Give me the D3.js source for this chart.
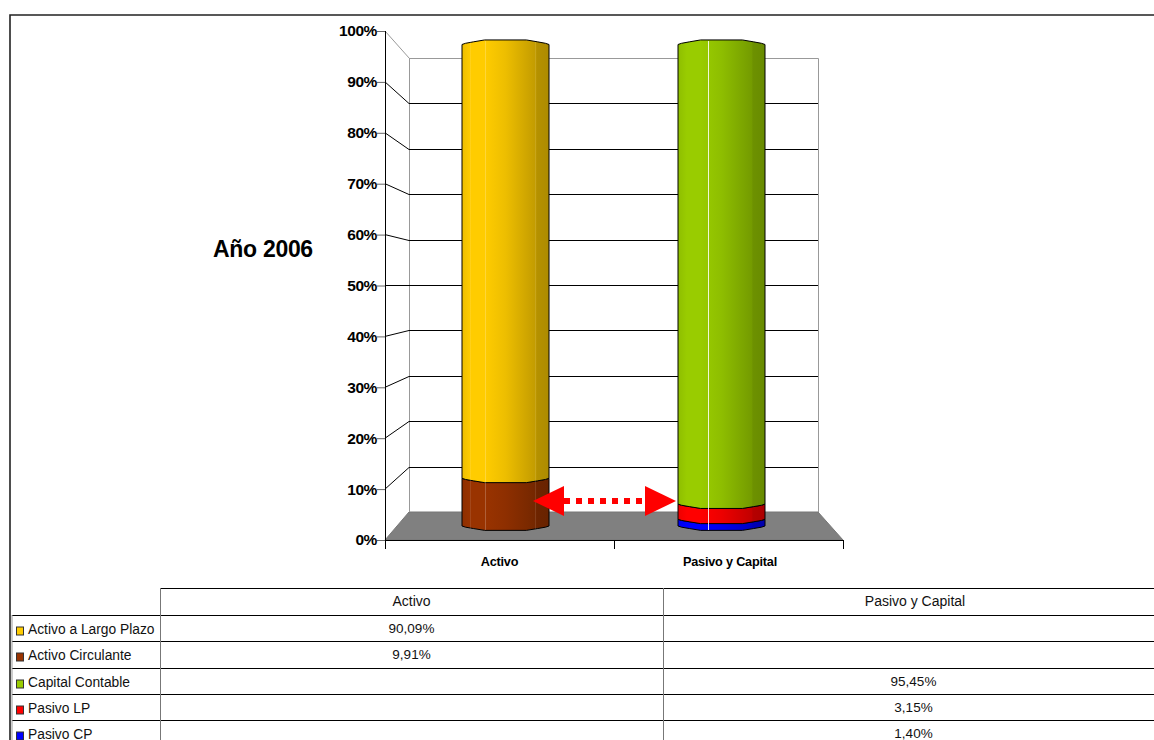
<!DOCTYPE html>
<html><head><meta charset="utf-8">
<script src="https://cdn.jsdelivr.net/npm/d3@7"></script>
<style>html,body{margin:0;padding:0;background:#fff}svg{display:block}text{font-family:"Liberation Sans",Arial,sans-serif}</style>
</head><body><div id="c"></div>
<script>
const categories=["Activo","Pasivo y Capital"];
const seriesNames=["Activo a Largo Plazo","Activo Circulante","Capital Contable","Pasivo LP","Pasivo CP"];
const seriesColors=["#FFCC00","#993300","#99CC00","#FF0000","#0000FF"];
const activoValues=[90.09,9.91,null,null,null];
const pasivoValues=[null,null,95.45,3.15,1.40];
const pctLabels=[["90,09%",""],["9,91%",""],["","95,45%"],["","3,15%"],["","1,40%"]];
const tickValues=[0,10,20,30,40,50,60,70,80,90,100];
const title="Año 2006";

const W=1154,H=740;
const svg=d3.select("#c").append("svg").attr("width",W).attr("height",H);
const defs=svg.append("defs");
const L=385,R=843,B=540,T=31,dx=24,dy=28;
const yFront=d3.scaleLinear().domain([0,100]).range([B,T]);
const yBack=d3.scaleLinear().domain([0,100]).range([512,58]);
const yBar=d3.scaleLinear().domain([0,100]).range([526,44.5]);
const xCat=d3.scaleBand().domain(categories).range([L,R]);
const barW=87;
const crisp=v=>Math.round(v)+.5;

// frame
svg.append("path").attr("d",`M10,740V15H${W}`).attr("fill","none").attr("stroke","#222").attr("stroke-width",1.6);

// floor
const g=svg.append("g");
g.append("path").attr("d",`M${L},${B}L${L+dx},512H${R-25}L${R},${B}Z`).attr("fill","#808080").attr("stroke","#777");
// back wall
g.append("path").attr("d",`M${L},${yFront(100)}L${L+dx+.5},${yBack(100)+.5}H${R-24.5}V512`).attr("fill","none").attr("stroke","#999").attr("stroke-width",1);
g.append("line").attr("x1",L+dx+.5).attr("x2",L+dx+.5).attr("y1",58).attr("y2",512).attr("stroke","#999");
// grid
tickValues.forEach(t=>{
  if(t===0||t===100)return;
  g.append("line").attr("x1",L+dx).attr("x2",R-25).attr("y1",crisp(yBack(t))).attr("y2",crisp(yBack(t))).attr("stroke","#000");
  g.append("line").attr("x1",L).attr("x2",L+dx).attr("y1",yFront(t)).attr("y2",crisp(yBack(t))).attr("stroke","#000");
});
// y axis
const axisY=d3.axisLeft(yFront).tickValues(tickValues).tickFormat(d=>d+"%").tickSize(8).tickPadding(1);
const ax=svg.append("g").attr("transform",`translate(${L},0)`).call(axisY);
ax.select(".domain").attr("stroke","#000").attr("d",`M0.5,${T}V${B}`);
ax.selectAll(".tick line").attr("stroke","#666");
ax.selectAll(".tick text").attr("x",-8).attr("font-size",15.5).attr("font-weight","bold").attr("fill","#000").attr("letter-spacing","-0.4").style("font-family",'"Liberation Sans"');
// x axis
svg.append("line").attr("x1",L).attr("x2",R).attr("y1",B+.5).attr("y2",B+.5).attr("stroke","#000");
[L,xCat("Pasivo y Capital"),R].forEach(x=>svg.append("line").attr("x1",Math.floor(x)+.5).attr("x2",Math.floor(x)+.5).attr("y1",B).attr("y2",549).attr("stroke","#000"));
svg.selectAll(".cat").data(categories).join("text").attr("class","cat")
  .attr("x",d=>xCat(d)+xCat.bandwidth()/2+(d==="Activo"?0:1.5)).attr("y",565.5).attr("text-anchor","middle")
  .attr("font-size",12.7).attr("font-weight","bold").attr("letter-spacing","-0.2").text(d=>d);

// gradients
function shade(c,k){const o=d3.rgb(c);return d3.rgb(o.r*k,o.g*k,o.b*k)+"";}
seriesColors.forEach((c,i)=>{
  const lg=defs.append("linearGradient").attr("id","g"+i);
  [[0,.93],[.1,1],[.26,1],[.5,.93],[.85,.76],[.86,.71],[1,.68]].forEach(([o,k])=>lg.append("stop").attr("offset",o).attr("stop-color",shade(c,k)));
});

// faceted cylinder edge
const edgeF=[0,.04,.13,.26,.74,.87,.96,1], edgeS=[0,.25,.55,.95,.95,.55,.25,0];
const edge=(left,y,s)=>edgeF.map((f,i)=>[left+f*barW,y+edgeS[i]*s]);
const line=d3.line();
function drawBar(cat,vals,order,off){
  const cx=xCat(cat)+xCat.bandwidth()/2+off;
  const left=cx-barW/2;
  let cum=0;
  const segs=order.map(i=>{const s={i,y0:cum,y1:cum+vals[i]};cum=s.y1;return s;});
  const bg=svg.append("g");
  segs.forEach((s,k)=>{
    const yb=yBar(s.y0),yt=yBar(s.y1),isTop=k===segs.length-1;
    const top=edge(left,yt,isTop?-4.8:4.4), bot=edge(left,yb,4.6).reverse();
    bg.append("path").attr("d",line(top.concat(bot))+"Z").attr("fill",`url(#g${s.i})`).attr("stroke","#000").attr("stroke-width",1).attr("stroke-linejoin","round");
  });
}
drawBar("Activo",activoValues,[1,0],6);
drawBar("Pasivo y Capital",pasivoValues,[4,3,2],-7);
// highlight lines
svg.append("line").attr("x1",485.5).attr("x2",485.5).attr("y1",41).attr("y2",530).attr("stroke","#fff").attr("stroke-opacity",.22);
svg.append("line").attr("x1",470.5).attr("x2",470.5).attr("y1",42).attr("y2",529).attr("stroke","#fff").attr("stroke-opacity",.1);
svg.append("line").attr("x1",535.5).attr("x2",535.5).attr("y1",42).attr("y2",529).attr("stroke","#fff").attr("stroke-opacity",.1);
svg.append("line").attr("x1",708.5).attr("x2",708.5).attr("y1",41).attr("y2",530).attr("stroke","#fff").attr("stroke-opacity",.85);

// arrow
const ay=501;
svg.append("line").attr("x1",564).attr("x2",645).attr("y1",ay).attr("y2",ay).attr("stroke","#f00").attr("stroke-width",6).attr("stroke-dasharray","6 6");
svg.append("path").attr("d",`M533,${ay}L564,486V516Z`).attr("fill","#f00");
svg.append("path").attr("d",`M676,${ay}L645,486V516Z`).attr("fill","#f00");

// title
svg.append("text").attr("x",213).attr("y",256.5).attr("font-size",23).attr("font-weight","bold").attr("letter-spacing","-0.3").text(title);

// table
const colX=[160,663,W+1];
const rowY=d3.scaleLinear().domain([0,1]).range([615,641.3]);
const t=svg.append("g");
t.append("line").attr("x1",160).attr("x2",W).attr("y1",588.5).attr("y2",588.5).attr("stroke","#000");
seriesNames.forEach((n,i)=>{
  const y=Math.round(rowY(i))+.5;
  t.append("line").attr("x1",12).attr("x2",W).attr("y1",y).attr("y2",y).attr("stroke","#000");
  t.append("rect").attr("x",16.5).attr("y",y+11.5).attr("width",7).attr("height",8).attr("fill",seriesColors[i]).attr("stroke","#333");
  t.append("text").attr("x",28).attr("y",y+18).attr("font-size",13.8).attr("fill","#111").text(n);
  pctLabels[i].forEach((p,j)=>{
    if(p) t.append("text").attr("x",(colX[j]+colX[j+1])/2-(j?-4.5:0)).attr("y",y+17.5).attr("text-anchor","middle").attr("font-size",13.5).attr("fill","#111").text(p);
  });
});
categories.forEach((c,j)=>t.append("text").attr("x",(colX[j]+colX[j+1])/2-(j?-6:0)).attr("y",605.5).attr("text-anchor","middle").attr("font-size",14).attr("fill","#111").text(c));
t.append("line").attr("x1",160.5).attr("x2",160.5).attr("y1",588).attr("y2",740).attr("stroke","#777").attr("stroke-width",1);
t.append("line").attr("x1",663.5).attr("x2",663.5).attr("y1",588).attr("y2",740).attr("stroke","#777").attr("stroke-width",1);
t.append("line").attr("x1",12).attr("x2",12).attr("y1",615).attr("y2",740).attr("stroke","#999").attr("stroke-width",1);
</script></body></html>
